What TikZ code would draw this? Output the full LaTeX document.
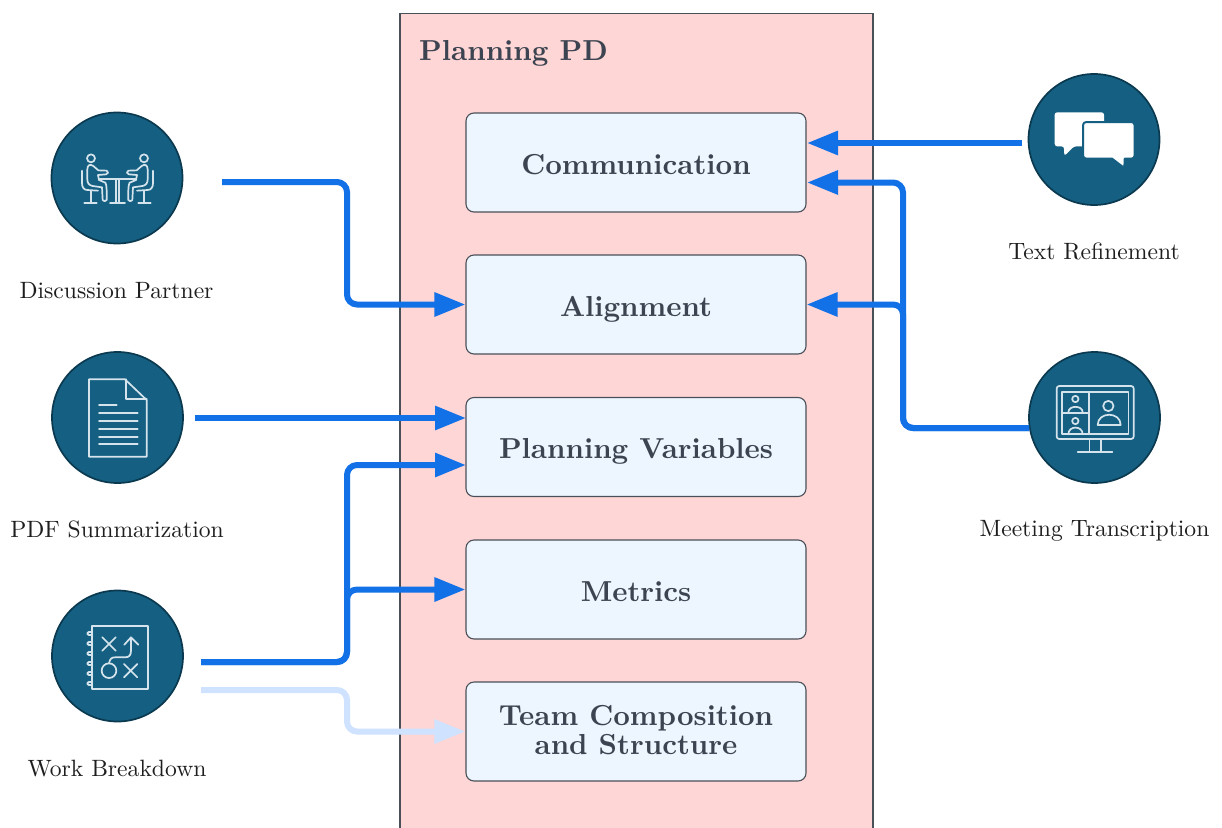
\documentclass[tikz,border=0pt]{standalone}
\usepackage{graphicx}
\usetikzlibrary{arrows.meta}
\definecolor{teal1}{HTML}{156082}
\definecolor{teal2}{HTML}{0B3A50}
\definecolor{iconc}{HTML}{D5E4EC}
\definecolor{flow}{HTML}{1271E6}
\definecolor{flowl}{HTML}{CFE2FF}
\definecolor{pinkbg}{HTML}{FFD6D6}
\definecolor{boxbg}{HTML}{EDF5FF}
\definecolor{boxln}{HTML}{4A5058}
\definecolor{txtc}{HTML}{3D4451}
\definecolor{lblc}{HTML}{1E1E1E}
\newcommand{\bt}[1]{\scalebox{2.89}{\fontsize{10}{12}\selectfont\bfseries #1}}
\newcommand{\tb}[1]{\raisebox{-11.5pt}[0pt][0pt]{\bt{#1}}}
\newcommand{\tc}[1]{\raisebox{1pt}[\height][\depth]{\bt{#1}}}
\newcommand{\lt}[1]{\scalebox{2.36}{\fontsize{10}{12}\selectfont #1}}
\tikzset{
  x=1pt,y=-1pt,
  region/.style={draw=boxln,fill=pinkbg,line width=1.2pt},
  topic/.style={draw=boxln,fill=boxbg,line width=1.1pt,rounded corners=8pt,minimum width=340pt,minimum height=99pt,inner sep=0pt,align=center,text=txtc,font=\fontsize{29}{29}\selectfont},
  tool/.style={circle,draw=teal2,fill=teal1,line width=1.7pt,minimum size=131pt,inner sep=0pt},
  lbl/.style={text=lblc,inner sep=0pt},
  conn/.style={draw=flow,line width=6pt,rounded corners=10pt,-{Triangle[length=31pt,width=23pt]}},
  connl/.style={conn,draw=flowl},
  ico/.style={draw=iconc,line width=1.7pt,line cap=round,line join=round},
  zoomed/.style={x=.33333pt,y=-.33333pt},
}
\begin{document}
\begin{tikzpicture}
\useasboundingbox (0,0) rectangle (1222,827);
\fill[white] (0,0) rectangle (1222,827);
\begin{scope}
\clip (0,0) rectangle (1222,827);
\draw[region] (400,13.5) rectangle (873,840);
\end{scope}
\node[anchor=base west,text=txtc,inner sep=0pt] (title) at (419,60.5) {\bt{Planning PD}};
\node[topic] (comm) at (636,162.5) {\tb{Communication}};
\node[topic] (align) at (636,304.5) {\tb{Alignment}};
\node[topic] (vars) at (636,447) {\tb{Planning Variables}};
\node[topic] (metrics) at (636,589.5) {\tb{Metrics}};
\node[topic] (team) at (636,731.5) {\tc{Team Composition}\\\tc{and Structure}};
\node[tool] (dp) at (117,178) {};
\node[tool] (pdf) at (117.5,417.5) {};
\node[tool] (wb) at (117.5,656) {};
\node[tool] (tr) at (1094,139.5) {};
\node[tool] (mt) at (1094.5,417.5) {};
\node[lbl] (ldp) at (116.5,291) {\lt{Discussion Partner}};
\node[lbl] (lpdf) at (117,529.5) {\lt{PDF Summarization}};
\node[lbl] (lwb) at (117,769) {\lt{Work Breakdown}};
\node[lbl] (ltr) at (1094,251.5) {\lt{Text Refinement}};
\node[lbl] (lmt) at (1094.5,530.5) {\lt{Meeting Transcription}};
% free ends
\coordinate (s1) at (222,182);
\coordinate (c1a) at (347,182);
\coordinate (c1b) at (347,304.5);
\coordinate (s2) at (195,418);
\coordinate (e2) at (466,418);
\coordinate (s3) at (201,662);
\coordinate (c3a) at (347,662);
\coordinate (c3b) at (347,465);
\coordinate (e3) at (466,465);
\coordinate (c4b) at (347,589.5);
\coordinate (s5) at (201,690);
\coordinate (c5a) at (347,690);
\coordinate (c5b) at (347,731.5);
\coordinate (s6) at (1022,143);
\coordinate (e6) at (807,143);
\coordinate (s7) at (1029,428);
\coordinate (c7a) at (903,428);
\coordinate (c7b) at (903,182.5);
\coordinate (e7) at (807,182.5);
\coordinate (c8b) at (903,304.5);
% connectors
\draw[connl] (s5) -- (c5a) -- (c5b) -- (team.west);
\draw[conn] (s1) -- (c1a) -- (c1b) -- (align.west);
\draw[conn] (s2) -- (e2);
\draw[conn] (s3) -- (c3a) -- (c3b) -- (e3);
\draw[conn] (s3) -- (c3a) -- (c4b) -- (metrics.west);
\draw[conn] (s6) -- (e6);
\draw[conn] (s7) -- (c7a) -- (c7b) -- (e7);
\draw[conn] (s7) -- (c7a) -- (c8b) -- (align.east);
% icon: discussion
\begin{scope}[shift={(30,100)},zoomed]
\foreach \t in {{},{shift={(525,0)},xscale=-1}}{
\begin{scope}[ico]
\expandafter\tikzset\expandafter{\t}
\draw (183,175) circle[radius=12];
\draw (172,208) .. controls (172,196) and (180,190) .. (190,198) -- (205,211) -- (230,212) .. controls (236,215) and (236,222) .. (228,223) -- (204,225) -- (207,240) -- (226,248) .. controls (230,252) and (231,280) .. (230,300) .. controls (228,305) and (220,305) .. (218,300) -- (216,262) -- (188,258) .. controls (176,256) and (172,248) .. (172,238) -- cycle;
\draw (156,212) -- (156,250) .. controls (156,262) and (162,270) .. (172,270) -- (204,272);
\draw (183,272) -- (183,306);
\draw (163,308) -- (200,308);
\end{scope}}
\begin{scope}[ico]
\draw (206,236) -- (319,236);
\draw (257,238) -- (257,306);
\draw (267,238) -- (267,306);
\draw (240,308) -- (285,308);
\end{scope}
\end{scope}
% icon: document
\begin{scope}[shift={(30,340)},zoomed,ico]
\draw (177,118) -- (285,118) -- (350,180) -- (350,350) -- (177,350) -- cycle;
\draw (287,118) -- (287,178) -- (350,178);
\draw (207,194) -- (260,194);
\foreach \yy in {218,242,266,290,313} \draw (207,\yy) -- (323,\yy);
\end{scope}
% icon: plan
\begin{scope}[shift={(30,580)},zoomed,ico]
\draw (187,138) rectangle (354,326);
\foreach \yy in {160,190,220,250,280,310} \draw (187,\yy-4) -- (176,\yy-4) .. controls (170,\yy-4) and (170,\yy+5) .. (176,\yy+5) -- (187,\yy+5);
\draw (217,172) -- (257,212) (257,172) -- (217,212);
\draw (282,252) -- (322,292) (322,252) -- (282,292);
\draw (237,272) circle[radius=22];
\draw (237,250) .. controls (240,236) and (245,232) .. (255,232) -- (285,232) .. controls (298,232) and (303,225) .. (303,212) -- (303,174);
\draw (283,194) -- (303,172) -- (325,194);
\end{scope}
% icon: bubbles
\begin{scope}[shift={(1010,60)},zoomed]
\fill[white,rounded corners=2.5pt] (134,157) -- (282,157) -- (282,259) -- (192,259) -- (163,288) -- (162,259) -- (134,259) -- cycle;
\filldraw[fill=white,draw=teal1,line width=2pt,line join=round] (229,186) -- (364,186) .. controls (370,186) and (374,190) .. (374,196) -- (374,286) .. controls (374,292) and (370,296) .. (364,296) -- (344,296) -- (343,324) -- (306,296) -- (229,296) .. controls (223,296) and (219,292) .. (219,286) -- (219,196) .. controls (219,190) and (223,186) .. (229,186) -- cycle;
\end{scope}
% icon: meeting
\begin{scope}[shift={(1010,340)},zoomed,ico]
\draw[rounded corners=2.5pt] (140,138) rectangle (371,297);
\draw (155,155) rectangle (355,283);
\draw (237,155) -- (237,283);
\draw (155,218) -- (237,218);
\draw (196,177) circle[radius=9.5];
\draw (175,217) .. controls (175,195) and (218,195) .. (218,217);
\draw (196,243) circle[radius=9.5];
\draw (175,283) .. controls (175,256) and (218,256) .. (218,283);
\draw (295,198) circle[radius=15.5];
\draw (263,255) .. controls (263,214) and (332,214) .. (332,255) -- cycle;
\draw (238,297) -- (238,333);
\draw (272,297) -- (272,333);
\draw (203,335) -- (307,335);
\end{scope}
\end{tikzpicture}
\end{document}
